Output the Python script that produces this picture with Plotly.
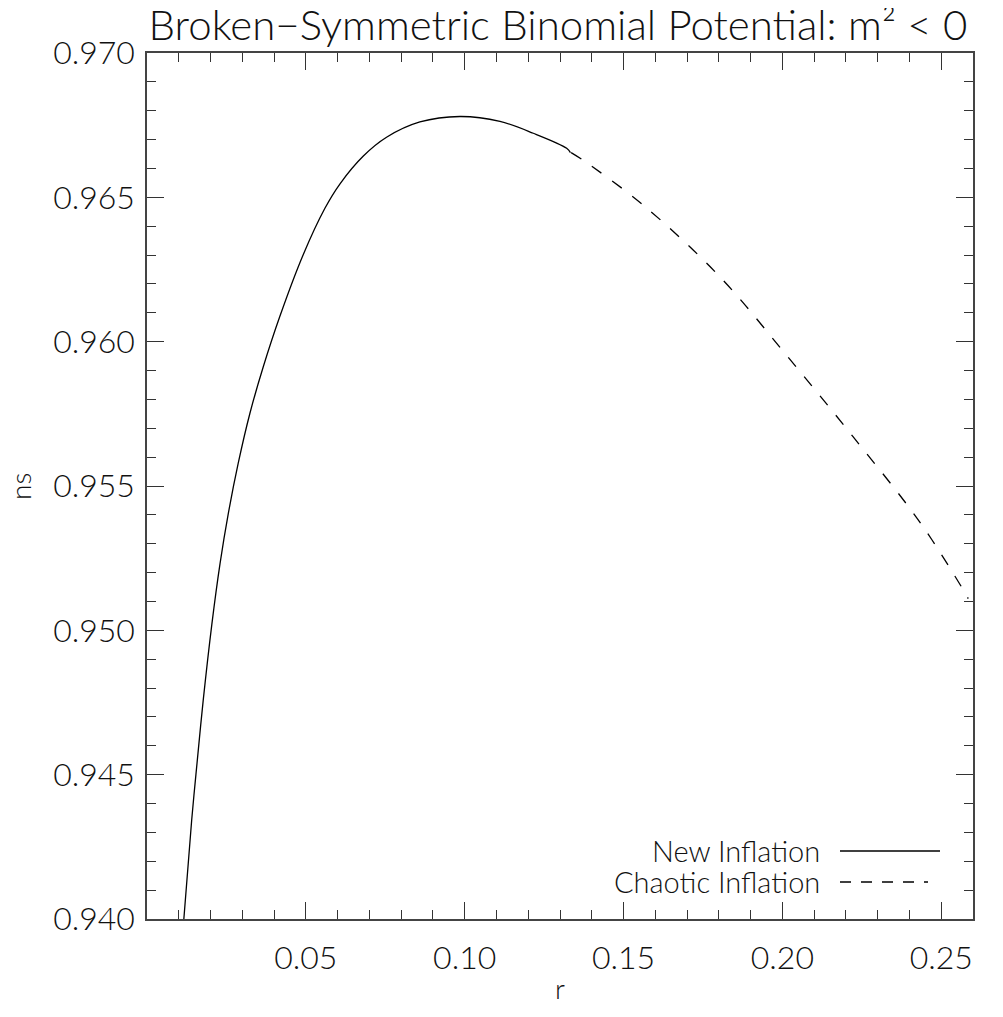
import plotly.graph_objects as go

# Data
new_r = [0.0116, 0.01406, 0.0154, 0.0177, 0.0204, 0.0230, 0.0256, 0.0287, 0.0324,
         0.0366, 0.0418, 0.0492, 0.0560, 0.0607, 0.0681, 0.0754, 0.0859, 0.0985,
         0.1111, 0.1216, 0.1321, 0.1333]
new_ns = [0.9400, 0.94342, 0.9450, 0.94758, 0.9502, 0.95232, 0.95405, 0.95578, 0.95752,
          0.95913, 0.96087, 0.96302, 0.96462, 0.96546, 0.96643, 0.96708, 0.96761, 0.96780,
          0.96763, 0.96722, 0.96670, 0.96655]
chaotic_r = [0.1335, 0.1372, 0.1562, 0.1803, 0.2013, 0.2223, 0.2432, 0.2564, 0.2585]
chaotic_ns = [0.96655, 0.96629, 0.96473, 0.96225, 0.95953, 0.95670, 0.95376, 0.95150, 0.95110]

x_ticks = [0.05, 0.10, 0.15, 0.20, 0.25]
x_labels = ["0.05", "0.10", "0.15", "0.20", "0.25"]
y_ticks = [0.940, 0.945, 0.950, 0.955, 0.960, 0.965, 0.970]
y_labels = ["0.940", "0.945", "0.950", "0.955", "0.960", "0.965", "0.970"]
legend_names = ["New Inflation", "Chaotic Inflation"]
title_text = "Broken\u2212Symmetric Binomial Potential: m\u00b2 < 0"
x_title = "r"
y_title = "ns"

FONT = "Lato"
WT = 300
TXT = "#111"
OFF = 8                      # default body margin of the html page
W, H = 1003 - 2 * OFF, 1017 - 2 * OFF
ML, MT = 147 - OFF, 53 - OFF
MR = W - (973 - OFF)
MB = H - (919 - OFF)
pw = W - ML - MR
ph = H - MT - MB


def fx(px):
    """page pixel x -> paper x"""
    return (px - OFF - ML) / pw


def fy(py):
    """page pixel y -> paper y"""
    return 1 - (py - OFF - MT) / ph


fig = go.Figure()
fig.add_trace(go.Scatter(x=new_r, y=new_ns, mode="lines", name=legend_names[0],
                         line=dict(color="black", width=1.3, shape="spline", smoothing=1.0),
                         showlegend=False))
fig.add_trace(go.Scatter(x=chaotic_r, y=chaotic_ns, mode="lines", name=legend_names[1],
                         line=dict(color="black", width=1.3, dash="12px,13px",
                                   shape="spline", smoothing=1.0),
                         showlegend=False))

axis_common = dict(
    showgrid=False, zeroline=False, showline=True, linecolor="#444", linewidth=1.5,
    mirror="ticks", ticks="inside", ticklen=17, tickwidth=1.2, tickcolor="#333",
    automargin=False,
    tickfont=dict(family=FONT, size=32, color=TXT, weight=WT),
)

fig.update_xaxes(range=[0, 0.26], tickvals=x_ticks, ticktext=x_labels,
                 ticklabelstandoff=10,
                 minor=dict(ticks="inside", ticklen=9, dtick=0.01, tick0=0,
                            tickcolor="#333", tickwidth=1.2),
                 **axis_common)
fig.update_yaxes(range=[0.940, 0.970], tickvals=y_ticks, ticktext=y_labels,
                 ticklabelstandoff=4,
                 minor=dict(ticks="inside", ticklen=9, dtick=0.001, tick0=0.94,
                            tickcolor="#333", tickwidth=1.2),
                 **axis_common)

# axis titles
fig.add_annotation(x=fx(560), y=fy(988), xref="paper", yref="paper", text=x_title,
                   showarrow=False, xanchor="center", yanchor="middle",
                   font=dict(family=FONT, size=28, color=TXT, weight=WT))
fig.add_annotation(x=fx(20), y=fy(487), xref="paper", yref="paper", text=y_title,
                   showarrow=False, xanchor="center", yanchor="middle", textangle=-90,
                   font=dict(family=FONT, size=28, color=TXT, weight=WT))

# Legend drawn in the lower right, text followed by line sample
leg_rows = [(850, "solid", 940), (881, "11px,10px", 928)]
for (ypix, dash, xend), name in zip(leg_rows, legend_names):
    fig.add_annotation(x=fx(822), y=fy(ypix), xref="paper", yref="paper",
                       text=name, showarrow=False, xanchor="right", yanchor="middle",
                       font=dict(family=FONT, size=29, color=TXT, weight=WT))
    fig.add_shape(type="line", xref="paper", yref="paper",
                  x0=fx(840), x1=fx(xend), y0=fy(ypix + 1), y1=fy(ypix + 1),
                  line=dict(color="black", width=1.3, dash=dash))

fig.update_layout(
    width=W, height=H,
    margin=dict(l=ML, r=MR, t=MT, b=MB, autoexpand=False),
    paper_bgcolor="white", plot_bgcolor="white",
    title=dict(text=title_text,
               x=fx(558), xref="paper", xanchor="center",
               y=1 - (25 - OFF) / H, yref="container", yanchor="middle",
               font=dict(family=FONT, size=42, color=TXT, weight=WT)),
    showlegend=False,
)

fig.write_html("out.html")
